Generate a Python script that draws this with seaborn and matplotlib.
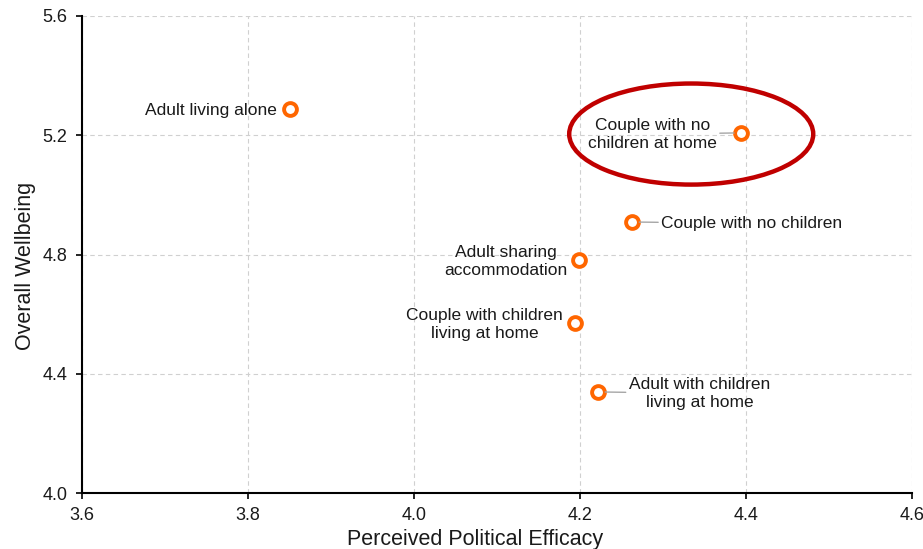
import matplotlib
matplotlib.use("Agg")
import matplotlib.pyplot as plt
import seaborn as sns
import pandas as pd
from matplotlib.patches import Ellipse

# ------------------------------------------------------------------
# dados
# ------------------------------------------------------------------
grupos = [
    "Adult living alone",
    "Couple with no\nchildren at home",
    "Couple with no children",
    "Adult sharing\naccommodation",
    "Couple with children\nliving at home",
    "Adult with children\nliving at home",
]
eficacia = [3.851, 4.394, 4.263, 4.199, 4.194, 4.222]
bem_estar = [5.288, 5.208, 4.909, 4.781, 4.570, 4.339]

# offsets dos rótulos (pontos) e se há linha guia
rotulo_dx = [-10, -64, 21, -53, -65, 73]
rotulo_ha = ["right", "center", "left", "center", "center", "center"]
com_linha = [False, True, True, False, False, True]

df = pd.DataFrame({"grupo": grupos, "x": eficacia, "y": bem_estar})

LARANJA = "#FF6600"
VERMELHO = "#C00000"

sns.set_theme(style="white")
plt.rcParams["font.family"] = ["Liberation Sans", "DejaVu Sans"]

fig = plt.figure(figsize=(9.23, 5.49), dpi=100)
ax = fig.add_axes([82 / 923, 56 / 549, 830 / 923, 477 / 549])

sns.scatterplot(
    data=df, x="x", y="y", ax=ax,
    s=85, facecolor="white", edgecolor=LARANJA, linewidth=2.8,
    zorder=5, clip_on=False,
)

for i, row in df.iterrows():
    props = None
    if com_linha[i]:
        props = dict(arrowstyle="-", color="#A6A6A6", lw=1,
                     shrinkA=0, shrinkB=5)
    ax.annotate(
        row["grupo"], (row["x"], row["y"]),
        xytext=(rotulo_dx[i], -1), textcoords="offset points",
        ha=rotulo_ha[i], va="center", multialignment="center",
        linespacing=1.25, fontsize=12.5, color="#1a1a1a",
        arrowprops=props, zorder=6,
    )

# destaque em elipse
ax.add_patch(Ellipse((4.334, 5.204), 0.294, 0.339, fill=False,
                     edgecolor=VERMELHO, lw=3.2, zorder=4))

ax.set_xlim(3.6, 4.6)
ax.set_ylim(4.0, 5.6)
ax.set_xticks([3.6, 3.8, 4.0, 4.2, 4.4, 4.6])
ax.set_yticks([4.0, 4.4, 4.8, 5.2, 5.6])
ax.xaxis.set_major_formatter(matplotlib.ticker.FormatStrFormatter("%.1f"))
ax.yaxis.set_major_formatter(matplotlib.ticker.FormatStrFormatter("%.1f"))
ax.grid(True, ls=(0, (4, 3)), color="#D0D0D0", lw=0.8)

for lado in ["top", "right"]:
    ax.spines[lado].set_visible(False)
for lado in ["left", "bottom"]:
    ax.spines[lado].set_color("black")
    ax.spines[lado].set_linewidth(1.5)

ax.tick_params(axis="both", which="major", length=4, width=1.2,
               color="black", labelsize=13, labelcolor="#1a1a1a",
               direction="out", left=True, bottom=True)
ax.tick_params(axis="y", pad=6.5)
ax.tick_params(axis="x", pad=6)

ax.set_xlabel("Perceived Political Efficacy", fontsize=15.5, color="#1a1a1a")
ax.set_ylabel("Overall Wellbeing", fontsize=15.5, color="#1a1a1a")
ax.xaxis.set_label_coords(0.474, -0.097)
ax.yaxis.set_label_coords(-0.068, 0.476)
ax.xaxis.label.set_va("center")
ax.yaxis.label.set_va("center")

fig.savefig("out.png", dpi=100)
